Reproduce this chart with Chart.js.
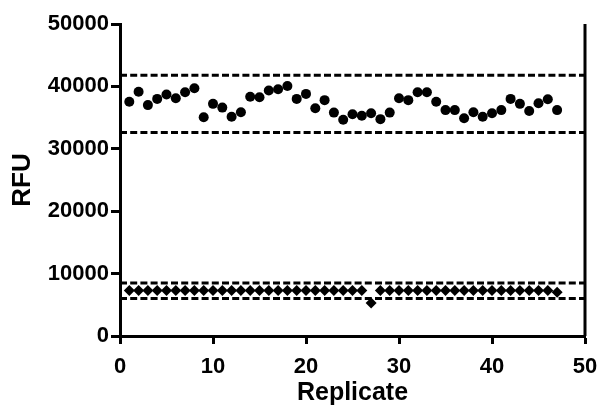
<!DOCTYPE html>
<html>
<head>
<meta charset="utf-8">
<script src="https://cdn.jsdelivr.net/npm/chart.js@4.4.1/dist/chart.umd.min.js"></script>
<style>
  html, body { margin: 0; padding: 0; background: #ffffff; }
  #wrap { width: 600px; height: 406px; }
</style>
</head>
<body>
<div id="wrap"><canvas id="c" width="600" height="406"></canvas></div>
<script>
const replicates = [1,2,3,4,5,6,7,8,9,10,11,12,13,14,15,16,17,18,19,20,21,22,23,24,25,26,27,28,29,30,31,32,33,34,35,36,37,38,39,40,41,42,43,44,45,46,47];
const highRFU = [37550,39150,37000,38000,38700,38100,39050,39700,35050,37200,36600,35150,35850,38350,38250,39350,39550,40050,38000,38800,36500,37800,35800,34650,35550,35300,35700,34750,35800,38100,37800,39050,39050,37550,36200,36200,34900,35850,35150,35700,36200,38000,37200,36050,37300,37950,36200];
const lowRFU = [7300,7300,7300,7300,7300,7300,7300,7300,7300,7300,7300,7300,7300,7300,7300,7300,7300,7300,7300,7300,7300,7300,7300,7300,7300,7300,5300,7300,7300,7300,7300,7300,7300,7300,7300,7300,7300,7300,7300,7300,7300,7300,7300,7300,7300,7300,7000];
const limitX = [0, 50];
const highUpper = [41800, 41800];
const highLower = [32600, 32600];
const lowUpper = [8500, 8500];
const lowLower = [6000, 6000];
const xTicks = [0, 10, 20, 30, 40, 50];
const yTicks = [0, 10000, 20000, 30000, 40000, 50000];

const FONT = "'Liberation Sans', Arial, sans-serif";
const toXY = (xs, ys) => xs.map((x, i) => ({ x: x, y: ys[i] }));

function limitLine(vals) {
  return {
    type: 'line',
    data: toXY(limitX, vals),
    borderColor: '#000',
    borderWidth: 3,
    borderDash: [7, 3.2],
    pointRadius: 0,
    fill: false,
    showLine: true,
    order: 0
  };
}

const rightFrame = {
  id: 'rightFrame',
  afterDraw(chart) {
    const a = chart.chartArea, ctx = chart.ctx;
    ctx.save();
    ctx.strokeStyle = '#000';
    ctx.lineWidth = 3;
    ctx.beginPath();
    ctx.moveTo(a.right, a.top);
    ctx.lineTo(a.right, a.bottom);
    ctx.stroke();
    ctx.restore();
  }
};

new Chart(document.getElementById('c'), {
  type: 'scatter',
  data: {
    datasets: [
      {
        data: toXY(replicates, highRFU),
        backgroundColor: '#000',
        borderColor: '#000',
        pointStyle: 'circle',
        pointRadius: 5,
        borderWidth: 0,
        order: 1
      },
      {
        data: toXY(replicates, lowRFU),
        backgroundColor: '#000',
        borderColor: '#000',
        pointStyle: 'rectRot',
        pointRadius: 5.5,
        borderWidth: 0,
        order: 1
      },
      limitLine(highUpper),
      limitLine(highLower),
      limitLine(lowUpper),
      limitLine(lowLower)
    ]
  },
  options: {
    responsive: false,
    animation: false,
    devicePixelRatio: 1,
    layout: { padding: { top: 24, right: 15, left: 0, bottom: 0 } },
    plugins: { legend: { display: false }, tooltip: { enabled: false } },
    scales: {
      x: {
        type: 'linear',
        min: 0, max: 50,
        afterBuildTicks(s) { s.ticks = xTicks.map(v => ({ value: v })); },
        afterFit(s) { s.height = 70; s.paddingRight = 0; s.paddingLeft = 0; },
        grid: { display: true, drawOnChartArea: false, drawTicks: true, tickLength: 8, tickWidth: 3, tickColor: '#000' },
        border: { display: true, color: '#000', width: 3 },
        ticks: { color: '#000', font: { family: FONT, size: 22, weight: 'bold' }, padding: 10, maxRotation: 0 },
        title: { display: true, text: 'Replicate', color: '#000', font: { family: FONT, size: 25, weight: 'bold', lineHeight: 1.0 }, padding: { top: -3, bottom: 0 } }
      },
      y: {
        type: 'linear',
        min: 0, max: 50000,
        afterBuildTicks(s) { s.ticks = yTicks.map(v => ({ value: v })); },
        afterFit(s) { s.width = 120; },
        grid: { display: true, drawOnChartArea: false, drawTicks: true, tickLength: 9, tickWidth: 3, tickColor: '#000' },
        border: { display: true, color: '#000', width: 3 },
        ticks: { color: '#000', font: { family: FONT, size: 22, weight: 'bold' }, padding: 2, callback: v => String(v) },
        title: { display: true, text: 'RFU', color: '#000', font: { family: FONT, size: 26, weight: 'bold', lineHeight: 1.0 }, padding: { top: 10, bottom: 0 } }
      }
    }
  },
  plugins: [rightFrame]
});
</script>
</body>
</html>
